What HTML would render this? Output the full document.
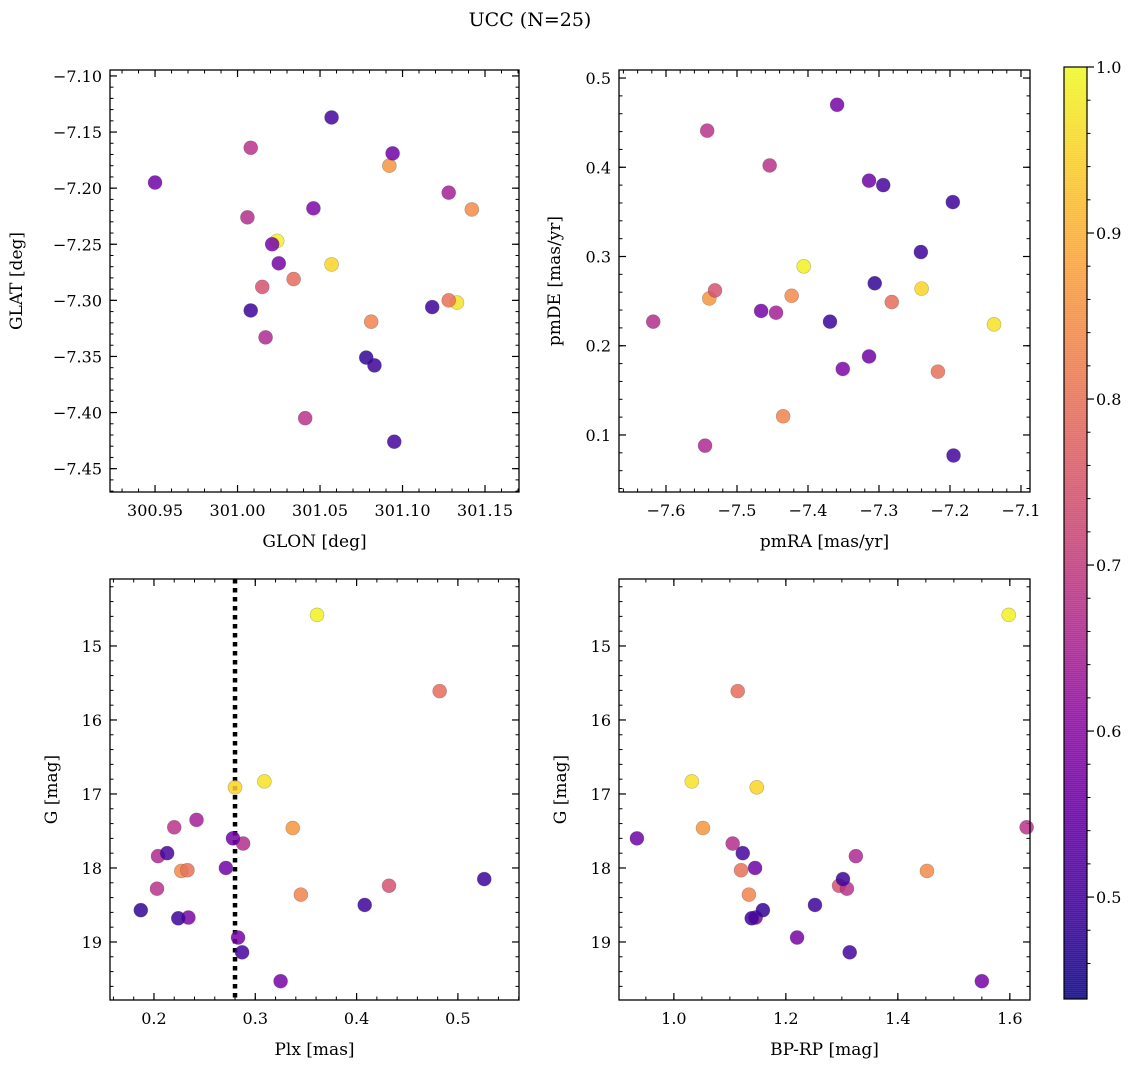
<!DOCTYPE html>
<html><head><meta charset="utf-8"><style>
body{margin:0;background:#fff;}
svg{display:block;font-family:"DejaVu Serif","Liberation Serif",serif;}
</style></head><body>
<svg id="fig" width="1136" height="1067" viewBox="0 0 1136 1067" xmlns="http://www.w3.org/2000/svg">
<text x="530" y="26" font-size="19" text-anchor="middle">UCC (N=25)</text>
</svg>
<script>
const glon=[301.024,301.057,301.133, 301.092,301.142,301.034,301.128,301.081,301.015, 301.008,301.128,301.006,301.017,301.041, 300.950,301.094,301.046,301.021,301.025, 301.057,301.008,301.118,301.078,301.083,301.095];
const glat=[-7.247,-7.268,-7.302, -7.180,-7.219,-7.281,-7.300,-7.319,-7.288, -7.164,-7.204,-7.226,-7.333,-7.405, -7.195,-7.169,-7.218,-7.250,-7.267, -7.137,-7.309,-7.306,-7.351,-7.358,-7.426];
const pmra=[-7.406,-7.240,-7.138, -7.539,-7.423,-7.282,-7.217,-7.435,-7.531, -7.454,-7.445,-7.618,-7.545,-7.542, -7.314,-7.314,-7.351,-7.359,-7.466, -7.294,-7.196,-7.241,-7.306,-7.369,-7.195];
const pmde=[0.289,0.264,0.224, 0.253,0.256,0.249,0.171,0.121,0.262, 0.402,0.237,0.227,0.088,0.441, 0.385,0.188,0.174,0.470,0.239, 0.380,0.361,0.305,0.270,0.227,0.077];
const plx=[0.361,0.280,0.309, 0.337,0.227,0.482,0.233,0.345,0.432, 0.220,0.242,0.288,0.204,0.203, 0.278,0.271,0.234,0.283,0.325, 0.213,0.526,0.408,0.187,0.224,0.287];
const gmag=[14.58,16.91,16.83, 17.46,18.04,15.61,18.03,18.36,18.24, 17.45,17.35,17.67,17.84,18.28, 17.60,18.00,18.67,18.94,19.53, 17.80,18.15,18.50,18.57,18.68,19.14];
const bprp=[1.598,1.148,1.032, 1.052,1.452,1.114,1.120,1.134,1.295, 1.630,1.800,1.105,1.325,1.309, 0.934,1.145,1.146,1.220,1.550, 1.123,1.302,1.252,1.159,1.139,1.314];
const prob=[0.99,0.95,0.97, 0.86,0.84,0.79,0.80,0.83,0.74, 0.68,0.64,0.67,0.66,0.68, 0.56,0.56,0.58,0.57,0.57, 0.50,0.49,0.49,0.48,0.49,0.50];
const plxLine=0.280;
const cbTicks=[0.5,0.6,0.7,0.8,0.9,1.0];
const vmin=0.4386, vmax=1.0;

const NS="http://www.w3.org/2000/svg";
const svg=document.getElementById('fig');
function mk(tag,attrs,parent){const e=document.createElementNS(NS,tag);for(const k in attrs)e.setAttribute(k,attrs[k]);(parent||svg).appendChild(e);return e;}
const stops=[[13,8,135],[65,4,157],[106,0,168],[143,13,164],[177,42,144],[204,71,120],[225,100,98],[242,132,75],[252,166,54],[252,206,37],[240,249,33]];
function plasma(t){t=Math.max(0,Math.min(1,t));const f=t*10,i=Math.min(9,Math.floor(f)),r=f-i;const a=stops[i],b=stops[i+1];return 'rgb('+a.map((v,k)=>Math.round(v+(b[k]-v)*r)).join(',')+')';}
function cval(v){return plasma((v-vmin)/(vmax-vmin));}
function fmt(v,d){const s=v.toFixed(d);return v<0?'\u2212'+s.slice(1):s;}
const defs=mk('defs',{});
let clipN=0;

function panel(o){
  const g=mk('g',{});
  
  
  const cid='clip'+(clipN++);
  const cp=mk('clipPath',{id:cid},defs);
  mk('rect',{x:o.x0-8,y:o.y0-8,width:o.x1-o.x0+16,height:o.y1-o.y0+16},cp);
  const sx=v=>o.x0+(v-o.xr[0])/(o.xr[1]-o.xr[0])*(o.x1-o.x0);
  const sy=v=>o.y1-(v-o.yr[0])/(o.yr[1]-o.yr[0])*(o.y1-o.y0);
  function ticks(lo,hi,step){const r=[];const s=Math.ceil(lo/step-1e-6);for(let k=s;k*step<=hi+1e-9;k++)r.push(+(k*step).toFixed(6));return r;}
  const xmin=Math.min(...o.xr),xmax=Math.max(...o.xr),ymin=Math.min(...o.yr),ymax=Math.max(...o.yr);
  ticks(xmin,xmax,o.xminor).forEach(v=>{const x=sx(v);mk('line',{x1:x,x2:x,y1:o.y1,y2:o.y1-3.5,stroke:'#000','stroke-width':1},g);mk('line',{x1:x,x2:x,y1:o.y0,y2:o.y0+3.5,stroke:'#000','stroke-width':1},g);});
  ticks(ymin,ymax,o.yminor).forEach(v=>{const y=sy(v);mk('line',{x1:o.x0,x2:o.x0+3.5,y1:y,y2:y,stroke:'#000','stroke-width':1},g);mk('line',{x1:o.x1,x2:o.x1-3.5,y1:y,y2:y,stroke:'#000','stroke-width':1},g);});
  o.xt.forEach(v=>{const x=sx(v);mk('line',{x1:x,x2:x,y1:o.y1,y2:o.y1-7,stroke:'#000','stroke-width':1.2},g);mk('line',{x1:x,x2:x,y1:o.y0,y2:o.y0+7,stroke:'#000','stroke-width':1.2},g);
    const t=mk('text',{x:x,y:o.y1+24,'font-size':16,'text-anchor':'middle'},g);t.textContent=fmt(v,o.xd);
    
    });
  o.yt.forEach(v=>{const y=sy(v);mk('line',{x1:o.x0,x2:o.x0+7,y1:y,y2:y,stroke:'#000','stroke-width':1.2},g);mk('line',{x1:o.x1,x2:o.x1-7,y1:y,y2:y,stroke:'#000','stroke-width':1.2},g);
    const t=mk('text',{x:o.x0-8,y:y+6,'font-size':16,'text-anchor':'end'},g);t.textContent=fmt(v,o.yd);
    
    });
  const pg=mk('g',{'clip-path':'url(#'+cid+')'},g);
  if(o.vline!==undefined){const x=sx(o.vline);const l=mk('line',{x1:x,x2:x,y1:o.y0,y2:o.y1,stroke:'#000','stroke-width':4.5,'stroke-dasharray':'4.5 4.5'},pg);
    
    }
  o.xs.forEach((xv,i)=>{const c=mk('circle',{cx:sx(xv),cy:sy(o.ys[i]),r:7,fill:cval(prob[i]),'fill-opacity':0.85,stroke:'rgba(60,60,60,0.35)','stroke-width':0.6},pg);
    
    });
  const fr=mk('rect',{x:o.x0,y:o.y0,width:o.x1-o.x0,height:o.y1-o.y0,fill:'none',stroke:'#000','stroke-width':1.3},g);
  
  
  const xl=mk('text',{x:(o.x0+o.x1)/2,y:o.y1+55,'font-size':17,'text-anchor':'middle'},g);xl.textContent=o.xlab;
  
  
  const yx=o.x0-90+(o.ylx||0), yc=(o.y0+o.y1)/2;
  const yl=mk('text',{x:yx,y:yc,'font-size':17,'text-anchor':'middle',transform:'rotate(-90 '+yx+' '+yc+')'},g);yl.textContent=o.ylab;
  
  
}
panel({name:'glon-glat-panel',x0:110,x1:519,y0:70,y1:492,xr:[300.9227,301.1706],yr:[-7.4708,-7.0947],xt:[300.95,301.0,301.05,301.1,301.15],yt:[-7.10,-7.15,-7.20,-7.25,-7.30,-7.35,-7.40,-7.45],xminor:0.01,yminor:0.01,xd:2,yd:2,xs:glon,ys:glat,xlab:'GLON [deg]',ylab:'GLAT [deg]',ylx:2});
panel({name:'proper-motion-panel',x0:619,x1:1030,y0:70,y1:492,xr:[-7.6662,-7.0873],yr:[0.0361,0.509],xt:[-7.6,-7.5,-7.4,-7.3,-7.2,-7.1],yt:[0.1,0.2,0.3,0.4,0.5],xminor:0.02,yminor:0.02,xd:1,yd:1,xs:pmra,ys:pmde,xlab:'pmRA [mas/yr]',ylab:'pmDE [mas/yr]',ylx:31});
panel({name:'plx-g-panel',x0:110,x1:519,y0:579,y1:1000,xr:[0.1566,0.5603],yr:[19.784,14.095],xt:[0.2,0.3,0.4,0.5],yt:[15,16,17,18,19],xminor:0.02,yminor:0.2,xd:1,yd:0,xs:plx,ys:gmag,xlab:'Plx [mas]',ylab:'G [mag]',ylx:37,vline:plxLine});
panel({name:'cmd-panel',x0:619,x1:1030,y0:579,y1:1000,xr:[0.902,1.636],yr:[19.784,14.095],xt:[1.0,1.2,1.4,1.6],yt:[15,16,17,18,19],xminor:0.05,yminor:0.2,xd:1,yd:0,xs:bprp,ys:gmag,xlab:'BP-RP [mag]',ylab:'G [mag]',ylx:37});

const cb=mk('g',{});


const cx0=1064,cx1=1087,cy0=67,cy1=999;
for(let y=cy0;y<cy1;y+=2){const v=vmax-(y-cy0)/(cy1-cy0)*(vmax-vmin);mk('rect',{x:cx0,y:y,width:cx1-cx0,height:2.5,fill:cval(v),'fill-opacity':0.85},cb);}
mk('rect',{x:cx0,y:cy0,width:cx1-cx0,height:cy1-cy0,fill:'none',stroke:'#000','stroke-width':1.2},cb);
const cy=v=>cy1-(v-vmin)/(vmax-vmin)*(cy1-cy0);
for(let k=23;k<=50;k++){const v=k*0.02;if(v<vmin||v>vmax+1e-9)continue;const y=cy(v);mk('line',{x1:cx1,x2:cx1+3.5,y1:y,y2:y,stroke:'#000'},cb);}
cbTicks.forEach(v=>{const y=cy(v);mk('line',{x1:cx1,x2:cx1+7,y1:y,y2:y,stroke:'#000','stroke-width':1.2},cb);
  const t=mk('text',{x:cx1+9,y:y+6,'font-size':16},cb);t.textContent=v.toFixed(1);
  
  });
</script>
</body></html>
